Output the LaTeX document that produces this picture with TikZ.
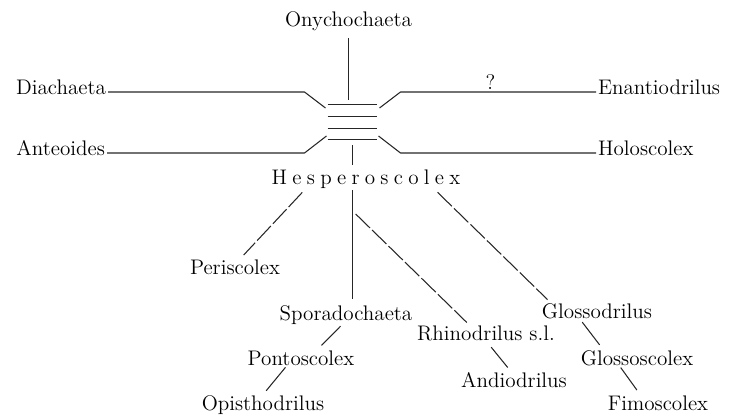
\documentclass[tikz,border=0pt]{standalone}
\usepackage{fontspec}
\usepackage{tikz}
\usetikzlibrary{
    calc,
    positioning
}
\tikzstyle{line}=[line width=0.6pt,draw=black!85]
\tikzstyle{broken}=[line,dash pattern=on 4mm off 0.6mm]
\newcommand{\lsp}{\kern3pt}

\begin{document}
\begin{tikzpicture}[
    x=0.2mm, y=-0.2mm,
    taxon/.style={
        inner sep=1pt,
        font=\fontsize{12}{14}\selectfont
    }
]
\useasboundingbox (0,0) rectangle (733,415);

% upper group round the bars
\node[taxon,anchor=base] (ony) at (348.5,27) {Onychochaeta};
\node[taxon,anchor=base east] (dia) at (108,95) {Diachaeta};
\node[taxon,anchor=base west] (enan) at (596,95) {Enantiodrilus};
\node[taxon,anchor=base east] (ante) at (107,156) {Anteoides};
\node[taxon,anchor=base west] (holo) at (596,156) {Holoscolex};
\node[minimum width=9.8mm,minimum height=6.8mm,inner sep=0] (core) at (352.5,122) {};
\node[taxon,anchor=base] (hesp) at (366,184) {H\lsp e\lsp s\lsp p\lsp e\lsp r\lsp o\lsp s\lsp c\lsp o\lsp l\lsp e\lsp x};

\foreach \f in {0,0.35,0.68,1}
    \draw[line] ($(core.north west)!\f!(core.south west)$) -- ($(core.north east)!\f!(core.south east)$);

\coordinate (nw) at ($(core)+(-48,-30)$);
\coordinate (nwin) at ($(core)+(-27,-14)$);
\coordinate (ne) at ($(core)+(48,-30)$);
\coordinate (nein) at ($(core)+(27,-14)$);
\coordinate (sw) at ($(core)+(-48,31)$);
\coordinate (swin) at ($(core)+(-26,14)$);
\coordinate (se) at ($(core)+(48,31)$);
\coordinate (sein) at ($(core)+(26,14)$);

\draw[line] (dia.east |- nw) -- (nw) -- (nwin);
\draw[line] (enan.west |- ne) -- node[taxon,above,pos=0.54] (query) {?} (ne) -- (nein);
\draw[line] (ante.east |- sw) -- (sw) -- (swin);
\draw[line] (holo.west |- se) -- (se) -- (sein);
\draw[line,shorten <=1mm,shorten >=1mm] (ony.south) -- (ony.south |- core.north);
\draw[line,shorten <=1.2mm,shorten >=0.4mm] (core.south) -- (core.south |- hesp.north);

% lower tree
\node[taxon,anchor=base] (peri) at (235,274) {Periscolex};
\node[taxon,anchor=base] (spor) at (346,320) {Sporadochaeta};
\node[taxon,anchor=base] (glod) at (597,318) {Glossodrilus};
\node[taxon,anchor=base] (rhin) at (486,340) {Rhinodrilus s.l.};
\node[taxon,anchor=base] (pont) at (301,365) {Pontoscolex};
\node[taxon,anchor=base] (glsc) at (637,365) {Glossoscolex};
\node[taxon,anchor=base] (andi) at (514,387) {Andiodrilus};
\node[taxon,anchor=base] (opis) at (263,410) {Opisthodrilus};
\node[taxon,anchor=base] (fimo) at (658,410) {Fimoscolex};

\draw[line,shorten >=0.8mm] (core.south |- hesp.south) -- (core.south |- spor.north);
\draw[broken,shorten <=0.6mm,shorten >=0.6mm] ($(hesp.south west)!0.18!(hesp.south east)$) -- ($(peri.north west)!0.57!(peri.north east)$);
\draw[broken,shorten <=6.8mm,shorten >=0.2mm] ($(hesp.south west)!0.32!(hesp.south east)$) -- ($(rhin.north west)!0.37!(rhin.north east)$);
\draw[broken,shorten <=0.6mm,shorten >=0.4mm] ($(hesp.south west)!0.86!(hesp.south east)$) -- ($(glod.north west)!0.08!(glod.north east)$);
\draw[line,shorten >=0.8mm] ($(spor.south west)!0.46!(spor.south east)$) -- ($(pont.north west)!0.66!(pont.north east)$);
\draw[line,shorten >=0.6mm] ($(pont.south west)!0.36!(pont.south east)$) -- ($(opis.north west)!0.51!(opis.north east)$);
\draw[line,shorten <=1.2mm,shorten >=0.6mm] ($(rhin.south west)!0.51!(rhin.south east)$) -- ($(andi.north west)!0.46!(andi.north east)$);
\draw[line,shorten <=0.4mm,shorten >=0.8mm] ($(glod.south west)!0.36!(glod.south east)$) -- ($(glsc.north west)!0.2!(glsc.north east)$);
\draw[line,shorten >=0.8mm] ($(glsc.south west)!0.36!(glsc.south east)$) -- ($(fimo.north west)!0.32!(fimo.north east)$);
\end{tikzpicture}
\end{document}
